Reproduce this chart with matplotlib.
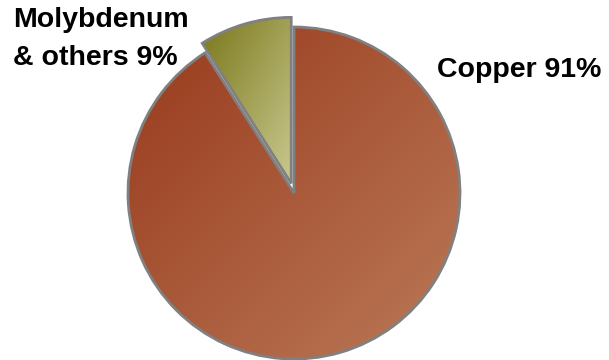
import numpy as np
import matplotlib
matplotlib.use("Agg")
import matplotlib.pyplot as plt
from matplotlib.colors import LinearSegmentedColormap

W, H = 609, 360

labels = ["Copper", "Molybdenum\n& others"]
shares = [91, 9]
# gradient end colours (dark corner -> light corner) per slice
grad_colors = [("#983a1c", "#bb7a58"), ("#7a781a", "#c9c88f")]

fig = plt.figure(figsize=(W / 100, H / 100), dpi=100)
ax = fig.add_axes([0, 0, 1, 1])

center = (294, 167)
radius = 166
wedges, _ = ax.pie(shares, startangle=90, counterclock=False, center=center,
                   radius=radius, explode=[0, 10], frame=True,
                   wedgeprops=dict(facecolor="none", edgecolor="#808080", linewidth=2, zorder=3))
ax.set_xlim(0, W)
ax.set_ylim(0, H)
ax.set_aspect("equal")
ax.axis("off")

# diagonal gradient fill, clipped to each wedge
for w, (c0, c1) in zip(wedges, grad_colors):
    cmap = LinearSegmentedColormap.from_list("g", [c0, c1])
    verts = w.get_path().vertices
    x0, y0 = verts.min(axis=0)
    x1, y1 = verts.max(axis=0)
    gx, gy = np.meshgrid(np.linspace(0, 1, 200), np.linspace(0, 1, 200))
    grad = (gx + gy) / 2  # dark at top-left, light at bottom-right
    im = ax.imshow(grad, cmap=cmap, extent=(x0, x1, y0, y1), origin="upper",
                   interpolation="bilinear", zorder=2, aspect="auto")
    im.set_clip_path(w)

font = dict(family="Liberation Sans", weight="bold", fontsize=20.5, color="black")
ax.text(437, H - 77, f"{labels[0]} {shares[0]}%", ha="left", va="baseline", **font)
mol_lines = labels[1].split("\n")
ax.text(13, H - 27, mol_lines[0], ha="left", va="baseline", **font)
ax.text(13, H - 65, f"{mol_lines[1]} {shares[1]}%", ha="left", va="baseline", **font)

fig.savefig("out.png", dpi=100)
